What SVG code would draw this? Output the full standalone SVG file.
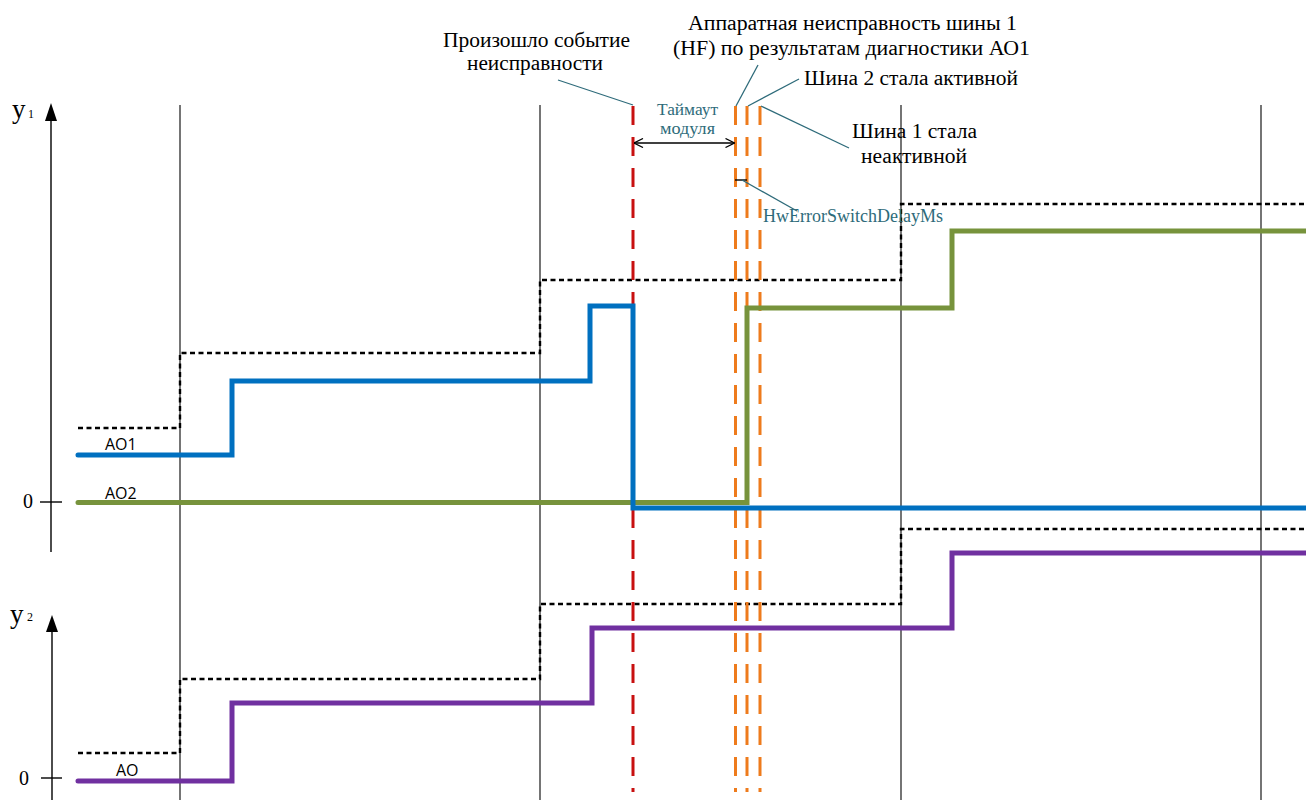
<svg xmlns="http://www.w3.org/2000/svg" width="1306" height="800" viewBox="0 0 1306 800">
<defs>
<style>
.grid{stroke:#3a3a3a;stroke-width:1.4;fill:none}
.axis{stroke:#000;stroke-width:1.4;fill:none}
.ref{stroke:#000;stroke-width:2.4;fill:none;stroke-dasharray:5 3.5}
.sig{fill:none;stroke-width:5;stroke-linejoin:miter;stroke-linecap:round}
.red{stroke:#C81010;stroke-width:3;stroke-dasharray:19 12;fill:none}
.org{stroke:#EE7B1C;stroke-width:3;stroke-dasharray:19 12;fill:none}
.lead{stroke:#2E6B7A;stroke-width:1.3;fill:none}
.t{font-family:"Liberation Serif","DejaVu Serif","Times New Roman",serif;font-size:20px;fill:#000}
.z{font-family:"Liberation Serif","Times New Roman",serif;font-size:20px;fill:#000}
.tt{font-family:"Liberation Serif","DejaVu Serif","Times New Roman",serif;font-size:16px;fill:#2E6B7A}
.td{font-family:"Liberation Serif","Times New Roman",serif;font-size:18px;fill:#2E6B7A}
.s{font-family:"Open Sans","Liberation Sans",sans-serif;font-size:16px;fill:#000}
.ax{font-family:"Liberation Serif","Times New Roman",serif;font-size:27px;fill:#000}
.sub{font-family:"Liberation Serif","Times New Roman",serif;font-size:12px;fill:#000}
</style>
<marker id="oa" viewBox="0 0 10 10" refX="10" refY="5" markerWidth="10" markerHeight="10" markerUnits="userSpaceOnUse" orient="auto-start-reverse">
<path d="M1,0.5 L10,5 L1,9.5" fill="none" stroke="#000" stroke-width="1.3"/>
</marker>
</defs>
<rect width="1306" height="800" fill="#fff"/>

<g id="grid">
<line class="grid" x1="180" y1="105" x2="180" y2="800"/>
<line class="grid" x1="540" y1="105" x2="540" y2="800"/>
<line class="grid" x1="901" y1="105" x2="901" y2="800"/>
<line class="grid" x1="1261" y1="105" x2="1261" y2="800"/>
</g>

<g id="axis-y1">
<line class="axis" x1="51" y1="118" x2="51" y2="552"/>
<path d="M51,103 L45,121 L57,121 Z" fill="#000"/>
<line class="axis" x1="40" y1="502" x2="62" y2="502"/>
<text class="ax" x="12" y="118">y</text><text class="sub" x="28" y="118">1</text>
<text class="z" x="28" y="508" text-anchor="middle">0</text>
</g>

<g id="axis-y2">
<line class="axis" x1="52" y1="628" x2="52" y2="800"/>
<path d="M52,615 L46,632 L58,632 Z" fill="#000"/>
<line class="axis" x1="41" y1="778" x2="62" y2="778"/>
<text class="ax" x="10" y="623">y</text><text class="sub" x="27" y="621">2</text>
<text class="z" x="24" y="785" text-anchor="middle">0</text>
</g>

<g id="reference-lines">
<path class="ref" d="M78,428 H180 V353 H540 V280 H901 V204 H1306"/>
<path class="ref" d="M78,753 H180 V679 H540 V604 H901 V529 H1306"/>
</g>

<g id="event-lines">
<line class="red" x1="633" y1="106" x2="633" y2="792"/>
<line class="org" x1="735.5" y1="106" x2="735.5" y2="792"/>
<line class="org" x1="747" y1="106" x2="747" y2="792"/>
<line class="org" x1="760" y1="106" x2="760" y2="792"/>
</g>

<g id="signal-AO2">
<path class="sig" stroke="#77933C" d="M78,502.5 H747 V308 H952 V231 H1306"/>
<text class="s" x="105" y="499">AO2</text>
</g>

<g id="signal-AO1">
<path class="sig" stroke="#0070C0" d="M78,455 H232 V381 H590 V306 H633 V508 H1306"/>
<text class="s" x="105" y="450">AO1</text>
</g>

<g id="signal-AO">
<path class="sig" stroke="#7030A0" d="M78,781 H232 V703 H592 V628 H952 V553 H1306"/>
<text class="s" x="116" y="776">AO</text>
</g>

<g id="connectors">
<line x1="634" y1="143" x2="734.5" y2="143" stroke="#000" stroke-width="1.3" marker-start="url(#oa)" marker-end="url(#oa)"/>
<line x1="735" y1="180" x2="747" y2="180" stroke="#000" stroke-width="1.4"/>
<line class="lead" x1="558" y1="80" x2="633" y2="105"/>
<line class="lead" x1="758" y1="65" x2="736" y2="106"/>
<line class="lead" x1="799" y1="79" x2="748" y2="106"/>
<line class="lead" x1="761" y1="106" x2="849" y2="148"/>
<line class="lead" x1="742" y1="180" x2="797" y2="211"/>
</g>

<g id="label-event">
<text class="t" x="443" y="47" textLength="187" lengthAdjust="spacingAndGlyphs">Произошло событие</text>
<text class="t" x="467" y="70" textLength="136" lengthAdjust="spacingAndGlyphs">неисправности</text>
</g>
<g id="label-hf">
<text class="t" x="688" y="30" textLength="329" lengthAdjust="spacingAndGlyphs">Аппаратная неисправность шины 1</text>
<text class="t" x="673" y="55" textLength="357" lengthAdjust="spacingAndGlyphs">(HF) по результатам диагностики АО1</text>
</g>
<g id="label-bus2">
<text class="t" x="804" y="85" textLength="214" lengthAdjust="spacingAndGlyphs">Шина 2 стала активной</text>
</g>
<g id="label-bus1">
<text class="t" x="852" y="138" textLength="125" lengthAdjust="spacingAndGlyphs">Шина 1 стала</text>
<text class="t" x="861" y="163" textLength="106" lengthAdjust="spacingAndGlyphs">неактивной</text>
</g>
<g id="label-timeout">
<text class="tt" x="657" y="115" textLength="61" lengthAdjust="spacingAndGlyphs">Таймаут</text>
<text class="tt" x="660" y="134" textLength="55" lengthAdjust="spacingAndGlyphs">модуля</text>
</g>
<g id="label-delay">
<text class="td" x="763" y="222">HwErrorSwitchDelayMs</text>
</g>
</svg>
